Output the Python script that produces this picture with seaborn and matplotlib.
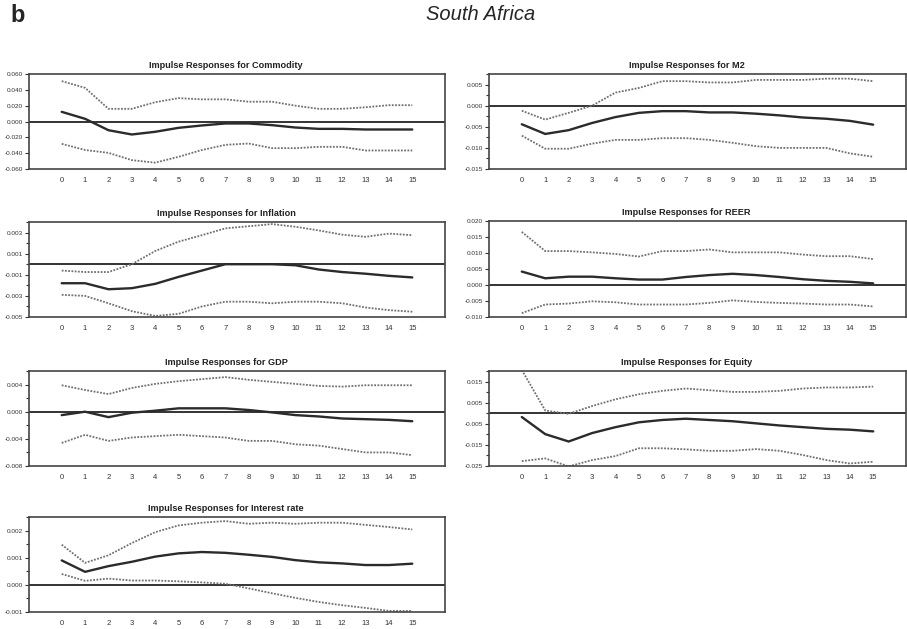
import matplotlib
matplotlib.use("Agg")
import matplotlib.pyplot as plt
from matplotlib.ticker import MultipleLocator
import seaborn as sns

horizons = list(range(16))

# Commodity
commodity_upper = [0.051, 0.0425, 0.016, 0.016, 0.0244, 0.0295, 0.028, 0.028,
                   0.025, 0.025, 0.020, 0.016, 0.016, 0.018, 0.0206, 0.0206]
commodity_mean = [0.0122, 0.0034, -0.011, -0.0164, -0.013, -0.008, -0.005, -0.0025,
                  -0.0025, -0.0046, -0.0076, -0.0093, -0.0093, -0.0101, -0.0101, -0.0101]
commodity_lower = [-0.0282, -0.036, -0.0396, -0.0488, -0.052, -0.0446, -0.036, -0.0295,
                   -0.0278, -0.0337, -0.0337, -0.032, -0.032, -0.0366, -0.0366, -0.0366]
commodity_ticks = [0.06, 0.04, 0.02, 0.0, -0.02, -0.04, -0.06]
commodity_labels = ["0.060", "0.040", "0.020", "0.000", "-0.020", "-0.040", "-0.060"]

# M2
m2_upper = [-0.0012, -0.0033, -0.0017, 0.0, 0.0031, 0.0042, 0.0058, 0.0058,
            0.0055, 0.0055, 0.0061, 0.0061, 0.0061, 0.0064, 0.0064, 0.0058]
m2_mean = [-0.0044, -0.0067, -0.0058, -0.0041, -0.0027, -0.0017, -0.0013, -0.0013,
           -0.0016, -0.0016, -0.0019, -0.0023, -0.0028, -0.0031, -0.0036, -0.0045]
m2_lower = [-0.0071, -0.0102, -0.0102, -0.009, -0.0081, -0.0081, -0.0077, -0.0077,
            -0.0081, -0.0088, -0.0096, -0.010, -0.010, -0.010, -0.0113, -0.0121]
m2_ticks = [0.005, 0.0, -0.005, -0.010, -0.015]
m2_labels = ["0.005", "0.000", "-0.005", "-0.010", "-0.015"]

# Inflation
inflation_upper = [-0.0006, -0.00074, -0.00074, 0.0, 0.00125, 0.00214, 0.00275, 0.0034,
                   0.0036, 0.0038, 0.00355, 0.0032, 0.0028, 0.0026, 0.0029, 0.00275]
inflation_mean = [-0.0018, -0.0018, -0.00237, -0.00227, -0.00186, -0.0012, -0.0006, 0.0,
                  0.0, 0.0, -0.0001, -0.0005, -0.00074, -0.0009, -0.0011, -0.00125]
inflation_lower = [-0.0029, -0.003, -0.0037, -0.00445, -0.0049, -0.0047, -0.004, -0.00355,
                   -0.00355, -0.0037, -0.00355, -0.00355, -0.0037, -0.0041, -0.00435, -0.0045]
inflation_ticks = [0.003, 0.001, -0.001, -0.003, -0.005]
inflation_labels = ["0.003", "0.001", "-0.001", "-0.003", "-0.005"]

# REER
reer_upper = [0.0166, 0.0106, 0.0106, 0.0102, 0.0097, 0.0089, 0.0106, 0.0106,
              0.0111, 0.0102, 0.0102, 0.0102, 0.0095, 0.009, 0.009, 0.0081]
reer_mean = [0.0042, 0.0021, 0.0026, 0.0026, 0.0021, 0.0017, 0.0017, 0.0025,
             0.0031, 0.0035, 0.0031, 0.0025, 0.0018, 0.0013, 0.001, 0.0005]
reer_lower = [-0.0088, -0.0061, -0.0058, -0.0051, -0.0054, -0.0061, -0.0061, -0.0061,
              -0.0056, -0.0048, -0.0053, -0.0056, -0.0058, -0.0061, -0.0061, -0.0067]
reer_ticks = [0.020, 0.015, 0.010, 0.005, 0.0, -0.005, -0.010]
reer_labels = ["0.020", "0.015", "0.010", "0.005", "0.000", "-0.005", "-0.010"]

# GDP
gdp_upper = [0.0039, 0.0032, 0.0026, 0.0035, 0.0041, 0.0045, 0.0048, 0.0051,
             0.0047, 0.0044, 0.0041, 0.0038, 0.0037, 0.0039, 0.0039, 0.0039]
gdp_mean = [-0.0005, 0.0, -0.0008, -0.00015, 0.00015, 0.0005, 0.0005, 0.0005,
            0.00025, -0.0001, -0.0005, -0.0007, -0.001, -0.0011, -0.0012, -0.0014]
gdp_lower = [-0.0046, -0.0034, -0.0043, -0.0038, -0.0036, -0.0034, -0.0036, -0.0038,
             -0.0043, -0.0043, -0.0048, -0.005, -0.0055, -0.006, -0.006, -0.0064]
gdp_ticks = [0.004, 0.0, -0.004, -0.008]
gdp_labels = ["0.004", "0.000", "-0.004", "-0.008"]

# Equity
equity_upper = [0.0205, 0.0013, -0.0003, 0.0034, 0.0066, 0.009, 0.0106, 0.0117,
                0.0109, 0.0101, 0.0101, 0.0106, 0.0117, 0.0122, 0.0122, 0.0126]
equity_mean = [-0.0018, -0.0099, -0.0134, -0.0094, -0.0066, -0.0043, -0.0032, -0.0026,
               -0.0032, -0.0038, -0.0048, -0.0058, -0.0066, -0.0074, -0.0078, -0.0086]
equity_lower = [-0.0227, -0.0214, -0.0252, -0.0222, -0.0203, -0.0166, -0.0166, -0.0171,
                -0.0178, -0.0178, -0.017, -0.0178, -0.0198, -0.0222, -0.0238, -0.023]
equity_ticks = [0.015, 0.005, -0.005, -0.015, -0.025]
equity_labels = ["0.015", "0.005", "-0.005", "-0.015", "-0.025"]

# Interest rate
interest_upper = [0.00148, 0.00081, 0.00109, 0.00154, 0.00194, 0.00219, 0.00229, 0.00235,
                  0.00225, 0.00229, 0.00225, 0.00229, 0.00229, 0.00221, 0.00213, 0.00204]
interest_mean = [0.0009, 0.00048, 0.00069, 0.00085, 0.00104, 0.00116, 0.00121, 0.00118,
                 0.00111, 0.00103, 0.00091, 0.00083, 0.00079, 0.00073, 0.00073, 0.00078]
interest_lower = [0.0004, 0.00015, 0.00023, 0.00016, 0.00016, 0.00013, 0.00009, 0.00004,
                  -0.00013, -0.00031, -0.00048, -0.00063, -0.00075, -0.00085, -0.00096, -0.00096]
interest_ticks = [0.002, 0.001, 0.0, -0.001]
interest_labels = ["0.002", "0.001", "0.000", "-0.001"]

sns.set_theme(style="white")
plt.rcParams["font.family"] = ["Liberation Sans Narrow", "Liberation Sans", "DejaVu Sans"]

W, H = 907, 629
fig = plt.figure(figsize=(W / 100, H / 100), dpi=100)


def box(x0, y0, x1, y1):
    return [x0 / W, 1 - y1 / H, (x1 - x0) / W, (y1 - y0) / H]


# name, upper, mean, lower, ticks, labels, ylim, minor step, pixel box
panels = [
    ("Commodity", commodity_upper, commodity_mean, commodity_lower, commodity_ticks,
     commodity_labels, (-0.06, 0.06), None, (29, 74, 445, 169)),
    ("M2", m2_upper, m2_mean, m2_lower, m2_ticks, m2_labels,
     (-0.015, 0.0075), 0.0025, (489, 74, 906, 169)),
    ("Inflation", inflation_upper, inflation_mean, inflation_lower, inflation_ticks,
     inflation_labels, (-0.005, 0.004), 0.001, (29, 222, 445, 317)),
    ("REER", reer_upper, reer_mean, reer_lower, reer_ticks, reer_labels,
     (-0.010, 0.020), None, (489, 221, 906, 317)),
    ("GDP", gdp_upper, gdp_mean, gdp_lower, gdp_ticks, gdp_labels,
     (-0.008, 0.006), 0.002, (29, 371, 445, 466)),
    ("Equity", equity_upper, equity_mean, equity_lower, equity_ticks, equity_labels,
     (-0.025, 0.020), 0.005, (489, 371, 906, 466)),
    ("Interest rate", interest_upper, interest_mean, interest_lower, interest_ticks,
     interest_labels, (-0.001, 0.0025), 0.0005, (29, 517, 445, 612)),
]

band_style = dict(color="#707070", lw=1.3, linestyle=(0, (1, 0.8)))
for name, upper, mean, lower, ticks, labels, ylim, minor, pix in panels:
    ax = fig.add_axes(box(*pix))
    sns.lineplot(x=horizons, y=upper, ax=ax, **band_style)
    sns.lineplot(x=horizons, y=lower, ax=ax, **band_style)
    sns.lineplot(x=horizons, y=mean, ax=ax, color="#2b2b2b", lw=1.7)
    ax.axhline(0, color="#111111", lw=1.2, zorder=1)
    ax.set_xlim(-1.4, 16.4)
    ax.set_ylim(*ylim)
    ax.set_xticks(horizons, [str(h) for h in horizons])
    ax.set_yticks(ticks, labels)
    if minor:
        ax.yaxis.set_minor_locator(MultipleLocator(minor))
    ax.tick_params(axis="x", length=0, pad=6, labelsize=5.5, colors="#333333")
    ax.tick_params(axis="y", which="major", length=3, width=0.8, pad=1.5,
                   labelsize=4.6, colors="#333333", left=True)
    ax.tick_params(axis="y", which="minor", length=2.5, width=0.8, left=True,
                   colors="#333333")
    ax.set_xlabel("")
    ax.set_ylabel("")
    for sp in ax.spines.values():
        sp.set_color("#444444")
        sp.set_linewidth(1.2)
    ax.set_title(f"Impulse Responses for {name}", x=0.474, pad=4,
                 fontsize=6.6, fontweight="bold", color="#222222")

fig.text(10 / W, 1 - 15 / H, "b", fontsize=17, fontweight="bold",
         family=["Liberation Sans", "DejaVu Sans"], va="center", ha="left")
fig.text(481 / W, 1 - 15 / H, "South Africa", fontsize=14.5, style="italic",
         va="center", ha="center")

fig.savefig("out.png", dpi=100)
